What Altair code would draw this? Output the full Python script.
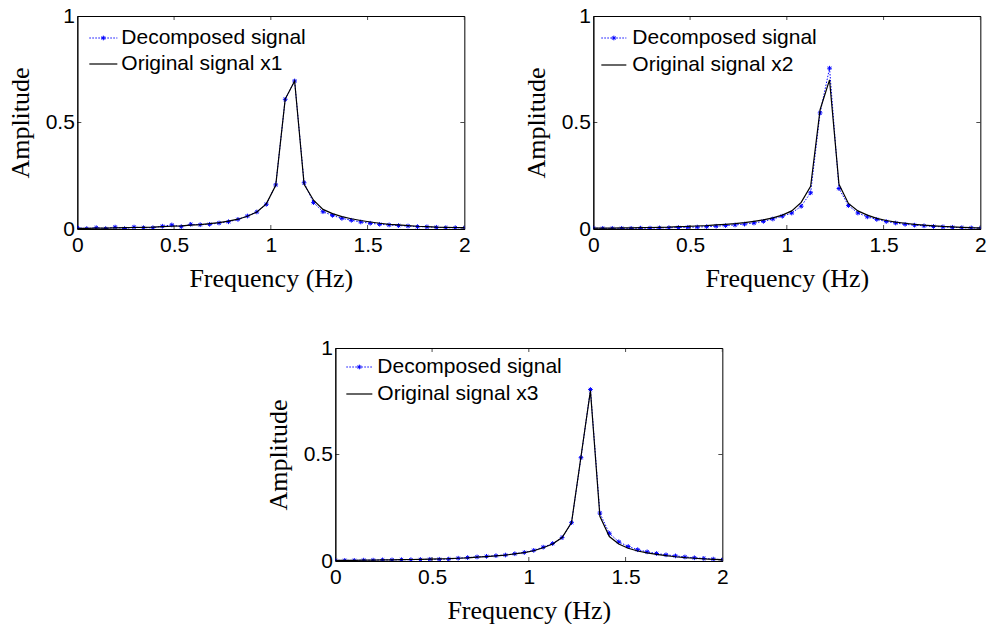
import altair as alt
import pandas as pd

# Frequency bins (Hz), spacing 100/2048
FREQ = [0.0, 0.0488, 0.0977, 0.1465, 0.1953, 0.2441, 0.2930, 0.3418, 0.3906, 0.4395,
        0.4883, 0.5371, 0.5859, 0.6348, 0.6836, 0.7324, 0.7813, 0.8301, 0.8789, 0.9277,
        0.9766, 1.0254, 1.0742, 1.1230, 1.1719, 1.2207, 1.2695, 1.3184, 1.3672, 1.4160,
        1.4648, 1.5137, 1.5625, 1.6113, 1.6602, 1.7090, 1.7578, 1.8066, 1.8555, 1.9043,
        1.9531, 2.0020]

DEC1 = [0.006, 0.002, 0.006, 0.002, 0.009, 0.002, 0.009, 0.006, 0.006, 0.013,
        0.019, 0.011, 0.022, 0.020, 0.022, 0.028, 0.034, 0.045, 0.061, 0.080,
        0.116, 0.207, 0.609, 0.695, 0.217, 0.124, 0.081, 0.064, 0.050, 0.041,
        0.033, 0.027, 0.022, 0.019, 0.016, 0.014, 0.011, 0.010, 0.008, 0.006,
        0.006, 0.005]
ORIG1 = [0.003, 0.003, 0.004, 0.004, 0.005, 0.006, 0.007, 0.008, 0.009, 0.011,
         0.013, 0.015, 0.018, 0.021, 0.025, 0.030, 0.037, 0.046, 0.060, 0.080,
         0.118, 0.205, 0.610, 0.695, 0.210, 0.135, 0.092, 0.072, 0.058, 0.048,
         0.040, 0.033, 0.027, 0.022, 0.019, 0.016, 0.013, 0.011, 0.009, 0.008,
         0.007, 0.006]

DEC2 = [0.004, 0.003, 0.003, 0.003, 0.003, 0.004, 0.004, 0.005, 0.006, 0.007,
        0.008, 0.009, 0.011, 0.013, 0.016, 0.019, 0.023, 0.028, 0.036, 0.047,
        0.060, 0.075, 0.107, 0.170, 0.545, 0.755, 0.190, 0.110, 0.075, 0.057,
        0.045, 0.035, 0.028, 0.022, 0.018, 0.015, 0.012, 0.010, 0.008, 0.006,
        0.005, 0.004]
ORIG2 = [0.004, 0.004, 0.004, 0.005, 0.005, 0.006, 0.007, 0.008, 0.009, 0.011,
         0.012, 0.014, 0.016, 0.019, 0.022, 0.025, 0.030, 0.036, 0.043, 0.052,
         0.065, 0.085, 0.125, 0.200, 0.560, 0.700, 0.210, 0.120, 0.085, 0.065,
         0.050, 0.040, 0.032, 0.027, 0.022, 0.018, 0.015, 0.012, 0.010, 0.008,
         0.006, 0.005]

DEC3 = [0.003, 0.003, 0.003, 0.004, 0.004, 0.005, 0.005, 0.006, 0.006, 0.007,
        0.008, 0.008, 0.009, 0.013, 0.016, 0.019, 0.022, 0.025, 0.028, 0.034,
        0.040, 0.050, 0.065, 0.082, 0.110, 0.180, 0.485, 0.805, 0.225, 0.130,
        0.090, 0.068, 0.053, 0.043, 0.035, 0.029, 0.024, 0.019, 0.015, 0.012,
        0.009, 0.006]
ORIG3 = [0.003, 0.003, 0.003, 0.004, 0.004, 0.005, 0.005, 0.006, 0.007, 0.008,
         0.009, 0.010, 0.011, 0.013, 0.015, 0.018, 0.021, 0.024, 0.028, 0.033,
         0.039, 0.048, 0.062, 0.080, 0.110, 0.180, 0.490, 0.800, 0.210, 0.115,
         0.080, 0.060, 0.047, 0.038, 0.031, 0.025, 0.020, 0.016, 0.013, 0.010,
         0.008, 0.006]

X_TICKS = [0, 0.5, 1, 1.5, 2]
Y_TICKS = [0, 0.5, 1]

W, H = 387, 213
BLUE = "#0000FF"
ASTERISK = "M-1,0L1,0M0,-1L0,1M-0.7,-0.7L0.7,0.7M-0.7,0.7L0.7,-0.7"
SANS = "Liberation Sans"
SERIF = "Liberation Serif"


def panel(dec, orig, orig_name, leg):
    """One spectrum panel: decomposed (blue dotted, starred) vs original (black)."""
    df = pd.DataFrame({"freq": FREQ, "dec": dec, "orig": orig})
    xt = pd.DataFrame({"t": X_TICKS})
    yt = pd.DataFrame({"t": Y_TICKS})

    xs = alt.Scale(domain=[0, 2], nice=False, zero=False)
    ys = alt.Scale(domain=[0, 1], nice=False, zero=False)
    x = alt.X("freq:Q", scale=xs,
              axis=alt.Axis(values=X_TICKS, format="~g", title="Frequency (Hz)",
                            ticks=False, labelPadding=5, labelFlush=False,
                            labelOverlap=False, titlePadding=10))
    base = alt.Chart(df)

    blue_line = base.mark_line(color=BLUE, strokeDash=[1.5, 1.5], strokeWidth=1,
                               clip=True).encode(
        x=x,
        y=alt.Y("dec:Q", scale=ys,
                axis=alt.Axis(values=Y_TICKS, format="~g", title="Amplitude",
                              ticks=False, labelPadding=3, labelFlush=False,
                              labelOverlap=False, titlePadding=12)))
    blue_pts = base.mark_point(shape=ASTERISK, size=22, color=BLUE, strokeWidth=1,
                               filled=False, opacity=1, clip=True).encode(
        x=alt.X("freq:Q", scale=xs), y=alt.Y("dec:Q", scale=ys))
    black_line = base.mark_line(color="black", strokeWidth=1.2, clip=True).encode(
        x=alt.X("freq:Q", scale=xs), y=alt.Y("orig:Q", scale=ys))

    # inward tick marks on all four sides
    tick_kw = dict(color="black", thickness=1, size=8, clip=True)
    xb = alt.Chart(xt).mark_tick(orient="vertical", **tick_kw).encode(
        x=alt.X("t:Q", scale=xs), y=alt.value(H))
    xtp = alt.Chart(xt).mark_tick(orient="vertical", **tick_kw).encode(
        x=alt.X("t:Q", scale=xs), y=alt.value(0))
    yl = alt.Chart(yt).mark_tick(orient="horizontal", **tick_kw).encode(
        y=alt.Y("t:Q", scale=ys), x=alt.value(0))
    yr = alt.Chart(yt).mark_tick(orient="horizontal", **tick_kw).encode(
        y=alt.Y("t:Q", scale=ys), x=alt.value(W))

    # legend in the upper-left corner
    x0, x1, tx, r1, r2 = leg
    one = alt.Chart(pd.DataFrame({"k": [0]}))
    lg_blue = one.mark_rule(color=BLUE, strokeDash=[1.5, 1.5], strokeWidth=1).encode(
        x=alt.value(x0), x2=alt.value(x1), y=alt.value(r1))
    lg_star = one.mark_point(shape=ASTERISK, size=22, color=BLUE, strokeWidth=1,
                             filled=False, opacity=1).encode(
        x=alt.value((x0 + x1) / 2), y=alt.value(r1))
    lg_black = one.mark_rule(color="black", strokeWidth=1.2).encode(
        x=alt.value(x0), x2=alt.value(x1), y=alt.value(r2))
    txt_kw = dict(font=SANS, fontSize=21, color="black", align="left",
                  baseline="middle")
    lg_t1 = one.mark_text(text="Decomposed signal", **txt_kw).encode(
        x=alt.value(tx), y=alt.value(r1))
    lg_t2 = one.mark_text(text=orig_name, **txt_kw).encode(
        x=alt.value(tx), y=alt.value(r2))

    return alt.layer(blue_line, blue_pts, black_line, xb, xtp, yl, yr,
                     lg_blue, lg_star, lg_black, lg_t1, lg_t2).properties(
        width=W, height=H)


p1 = panel(DEC1, ORIG1, "Original signal x1", (12, 40, 44, 22, 48))
p2 = panel(DEC2, ORIG2, "Original signal x2", (8, 33, 39, 22, 49))
p3 = panel(DEC3, ORIG3, "Original signal x3", (11, 37, 42, 19, 46))

top = alt.hconcat(p1, p2, spacing=51)
chart = alt.vconcat(top, p3, spacing=44, center=True).properties(
    padding={"left": 6, "top": 4, "right": 0, "bottom": 0},
    background="white",
).configure_view(
    stroke="black", strokeWidth=1
).configure_axis(
    labelFont=SANS, labelFontSize=21, labelColor="black",
    titleFont=SERIF, titleFontSize=26, titleFontWeight="normal", titleColor="black",
    domainColor="black", domainWidth=1, grid=False,
)

chart.save("out.html", embed_options={"renderer": "svg", "actions": False})
